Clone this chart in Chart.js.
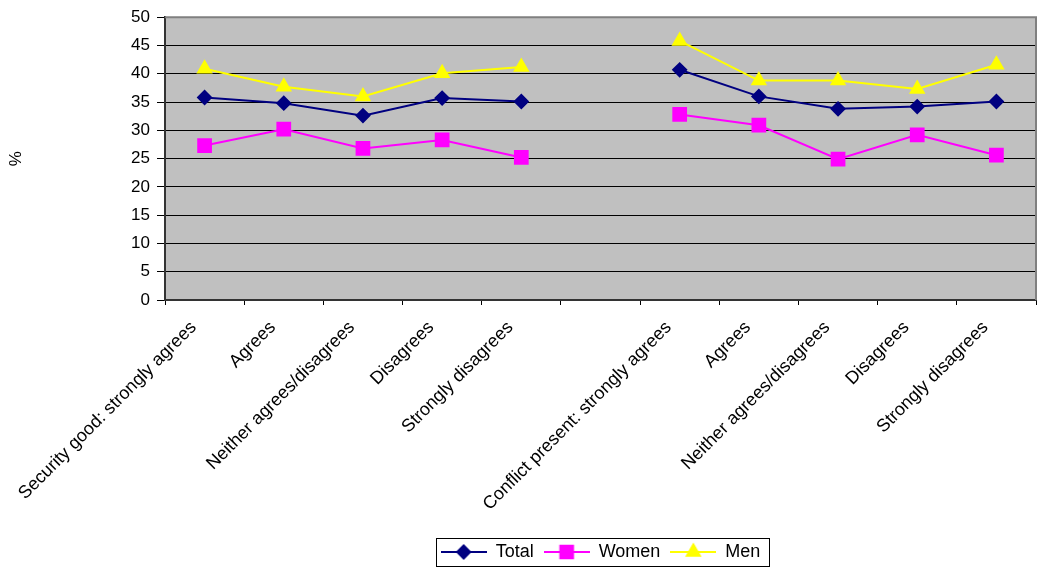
<!DOCTYPE html>
<html>
<head>
<meta charset="utf-8">
<script src="https://cdn.jsdelivr.net/npm/chart.js@4.4.0/dist/chart.umd.min.js"></script>
<style>
  body { margin: 0; background: #fff; }
  canvas { display: block; }
</style>
</head>
<body>
<canvas id="myChart" width="1037" height="573"></canvas>
<script>
const categories = ["Security good: strongly agrees", "Agrees", "Neither agrees/disagrees", "Disagrees", "Strongly disagrees", "",
  "Conflict present: strongly agrees", "Agrees", "Neither agrees/disagrees", "Disagrees", "Strongly disagrees"];
const totalValues = [35.8, 34.8, 32.6, 35.7, 35.1, null, 40.7, 36.0, 33.8, 34.2, 35.1];
const womenValues = [27.3, 30.2, 26.8, 28.3, 25.2, null, 32.8, 30.9, 24.9, 29.2, 25.6];
const menValues = [40.9, 37.7, 36.0, 40.1, 41.2, null, 45.8, 38.8, 38.8, 37.3, 41.6];
const yTicks = [0, 5, 10, 15, 20, 25, 30, 35, 40, 45, 50];

const fontFamily = "'Liberation Sans', Arial, sans-serif";

// small line+marker icon for the legend, like excel draws it
function legendIcon(color, style, radius) {
  const c = document.createElement('canvas');
  c.width = 46; c.height = 20;
  const ctx = c.getContext('2d');
  ctx.strokeStyle = color;
  ctx.lineWidth = 2;
  ctx.beginPath();
  ctx.moveTo(0, 10); ctx.lineTo(46, 10);
  ctx.stroke();
  ctx.fillStyle = color;
  Chart.helpers.drawPoint(ctx, {pointStyle: style, radius: radius, borderWidth: 1, rotation: 0}, 23, 10);
  ctx.fill();
  return c;
}

const plotBg = {
  id: 'plotBg',
  beforeDraw(chart) {
    const a = chart.chartArea, ctx = chart.ctx;
    ctx.save();
    ctx.fillStyle = '#c0c0c0';
    ctx.fillRect(a.left, a.top, a.right - a.left, a.bottom - a.top);
    ctx.restore();
  },
  beforeDatasetsDraw(chart) {
    const a = chart.chartArea, ctx = chart.ctx;
    ctx.save();
    ctx.strokeStyle = '#808080';
    ctx.lineWidth = 2;
    ctx.beginPath();
    ctx.moveTo(a.left, a.top); ctx.lineTo(a.right, a.top); ctx.lineTo(a.right, a.bottom);
    ctx.stroke();
    ctx.restore();
  },
  afterDraw(chart) {
    const boxes = chart.legend.legendHitBoxes;
    if (!boxes || !boxes.length) return;
    let l = Infinity, r = -Infinity, t = Infinity, b = -Infinity;
    boxes.forEach(h => {
      l = Math.min(l, h.left); r = Math.max(r, h.left + h.width);
      t = Math.min(t, h.top); b = Math.max(b, h.top + h.height);
    });
    const ctx = chart.ctx;
    ctx.save();
    ctx.strokeStyle = '#000';
    ctx.lineWidth = 1;
    ctx.strokeRect(Math.round(l - 5) + 0.5, Math.round(t - 5) + 0.5, Math.round(r - l + 13), Math.round(b - t + 10));
    ctx.restore();
  }
};

const icons = [
  legendIcon('#000080', 'rectRot', 6.5),
  legendIcon('#ff00ff', 'rect', 9),
  legendIcon('#ffff00', 'triangle', 7.5)
];

new Chart(document.getElementById('myChart'), {
  type: 'line',
  data: {
    labels: categories,
    datasets: [{
      label: 'Total',
      data: totalValues,
      borderColor: '#000080',
      backgroundColor: '#000080',
      borderWidth: 2,
      pointStyle: 'rectRot',
      pointRadius: 6.5,
      pointHoverRadius: 6.5,
      tension: 0,
      spanGaps: false
    }, {
      label: 'Women',
      data: womenValues,
      borderColor: '#ff00ff',
      backgroundColor: '#ff00ff',
      borderWidth: 2,
      pointStyle: 'rect',
      pointRadius: 9,
      pointHoverRadius: 9,
      tension: 0,
      spanGaps: false
    }, {
      label: 'Men',
      data: menValues,
      borderColor: '#ffff00',
      backgroundColor: '#ffff00',
      borderWidth: 2,
      pointStyle: 'triangle',
      pointRadius: 7.5,
      pointHoverRadius: 7.5,
      tension: 0,
      spanGaps: false
    }]
  },
  options: {
    responsive: false,
    animation: false,
    devicePixelRatio: 1,
    layout: { autoPadding: false, padding: { top: 17, right: 1, bottom: 2, left: 0 } },
    plugins: {
      tooltip: { enabled: false },
      legend: {
        position: 'bottom',
        fullSize: false,
        labels: {
          usePointStyle: true,
          pointStyleWidth: 46,
          padding: 10,
          color: '#000',
          font: { family: fontFamily, size: 18 },
          generateLabels(chart) {
            return chart.data.datasets.map((ds, i) => ({
              text: ds.label,
              fillStyle: ds.backgroundColor,
              strokeStyle: ds.borderColor,
              lineWidth: 0,
              pointStyle: icons[i],
              hidden: false,
              datasetIndex: i
            }));
          }
        }
      }
    },
    scales: {
      x: {
        offset: true,
        grid: { offset: true, drawOnChartArea: false, drawTicks: true, tickLength: 5, color: '#000' },
        border: { display: true, color: '#333', width: 2 },
        ticks: {
          autoSkip: false,
          minRotation: 45,
          maxRotation: 45,
          labelOffset: -11,
          padding: 12,
          color: '#000',
          font: { family: fontFamily, size: 18 }
        },
        afterFit(scale) {
          scale.height = 233;
          scale.paddingRight = 0;
        }
      },
      y: {
        min: 0,
        max: 50,
        afterBuildTicks(scale) { scale.ticks = yTicks.map(v => ({ value: v })); },
        grid: { color: '#000', lineWidth: 1, drawTicks: true, tickLength: 8 },
        border: { display: true, color: '#333', width: 2 },
        ticks: {
          padding: 7,
          color: '#000',
          font: { family: fontFamily, size: 17 }
        },
        title: {
          display: true,
          text: '%',
          color: '#000',
          font: { family: fontFamily, size: 17 },
          padding: { top: 6, bottom: 4 }
        },
        afterFit(scale) { scale.width = 165; }
      }
    }
  },
  plugins: [plotBg]
});
</script>
</body>
</html>
